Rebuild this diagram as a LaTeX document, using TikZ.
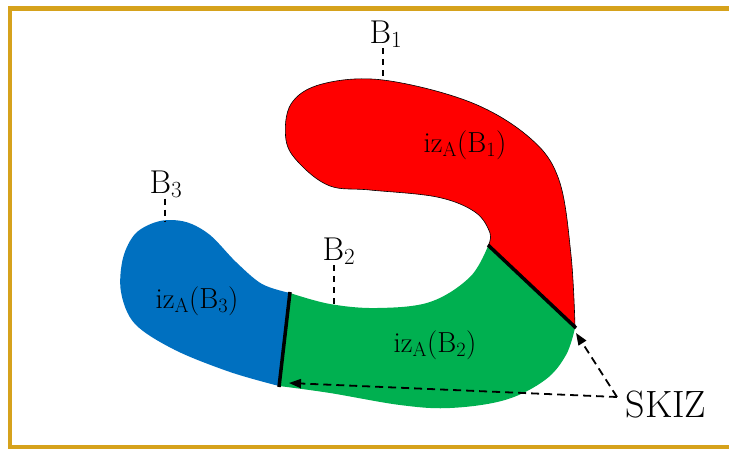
\RequirePackage{fix-cm}
\documentclass[tikz,border=0pt]{standalone}
\usetikzlibrary{arrows.meta}
\definecolor{frameGold}{RGB}{214,162,28}
\definecolor{regRed}{RGB}{255,0,0}
\definecolor{regGreen}{RGB}{0,176,80}
\definecolor{regBlue}{RGB}{0,112,192}
\newcommand{\subtx}[1]{\textsubscript{#1}}
\begin{document}
\begin{tikzpicture}[x=1pt,y=-1pt,
  lbl/.style={inner sep=0pt, font=\fontsize{33}{35}\selectfont},
  zone/.style={inner sep=0pt, font=\fontsize{29}{31}\selectfont},
  skizlbl/.style={inner sep=0pt, font=\fontsize{38}{40}\selectfont},
  tick/.style={line width=1.5pt, dash pattern=on 6pt off 5pt},
  skizline/.style={line width=3.5pt},
  arr/.style={line width=1.8pt, dash pattern=on 8pt off 5pt, -{Triangle[length=12pt,width=9pt]}}]
\useasboundingbox (0,0) rectangle (729,448);
\clip (0,0) rectangle (729,448);
\draw[frameGold, line width=4.5pt] (10,8.5) rectangle (760,447.5);

% green region
\fill[regGreen] plot[smooth, tension=0.6] coordinates {(488,246) (470,277) (430,302) (377,308) (330,304) (290,293)}
  -- plot[smooth, tension=0.6] coordinates {(279,386) (330,393) (400,405) (450,408) (505,400) (545,380) (566,355) (575,328)} -- cycle;
% blue region
\fill[regBlue] plot[smooth, tension=0.55] coordinates {(290,293) (262,284) (236,262) (210,235) (186,222) (160,221) (136,233) (123,258) (121,292) (135,324) (175,350) (230,372) (279,386)} -- cycle;
% red region
\filldraw[fill=regRed, draw=black, line width=0.6pt] plot[smooth, tension=0.6] coordinates {(575,326) (571,255) (559,180) (530,138) (470,102) (383,80) (322,84) (291,104) (286,140) (300,164) (330,186) (370,190) (437,197) (475,212) (490,233) (488,246)} -- cycle;

% SKIZ boundaries
\coordinate (s1a) at (488,245);
\coordinate (s1b) at (576,328);
\coordinate (s2a) at (290,292);
\coordinate (s2b) at (279,387);
\draw[skizline] (s1a) -- (s1b);
\draw[skizline] (s2a) -- (s2b);

% labels
\node[lbl, anchor=base] (b1) at (386,43) {B\subtx{1}};
\node[lbl, anchor=base] (b2) at (339,260) {B\subtx{2}};
\node[lbl, anchor=base] (b3) at (166,193) {B\subtx{3}};
\coordinate (p1) at (383,79);
\coordinate (p2) at (334,305);
\coordinate (p3) at (165,221);
\draw[tick] (b1.south -| p1) -- (p1);
\draw[tick] (b2.south -| p2) -- (p2);
\draw[tick] (b3.south -| p3) -- (p3);

\node[zone, anchor=base] (z1) at (465,152) {iz\subtx{A}(B\subtx{1})};
\node[zone, anchor=base] (z2) at (435,352) {iz\subtx{A}(B\subtx{2})};
\node[zone, anchor=base] (z3) at (197,308) {iz\subtx{A}(B\subtx{3})};

\node[skizlbl, anchor=base] (skiz) at (666,417) {SKIZ};
\coordinate (sk) at (617,397);
\coordinate (t1) at (576,333);
\coordinate (t2) at (289,383);
\draw[arr] (sk) -- (t1);
\draw[arr] (sk) -- (t2);
\end{tikzpicture}
\end{document}
